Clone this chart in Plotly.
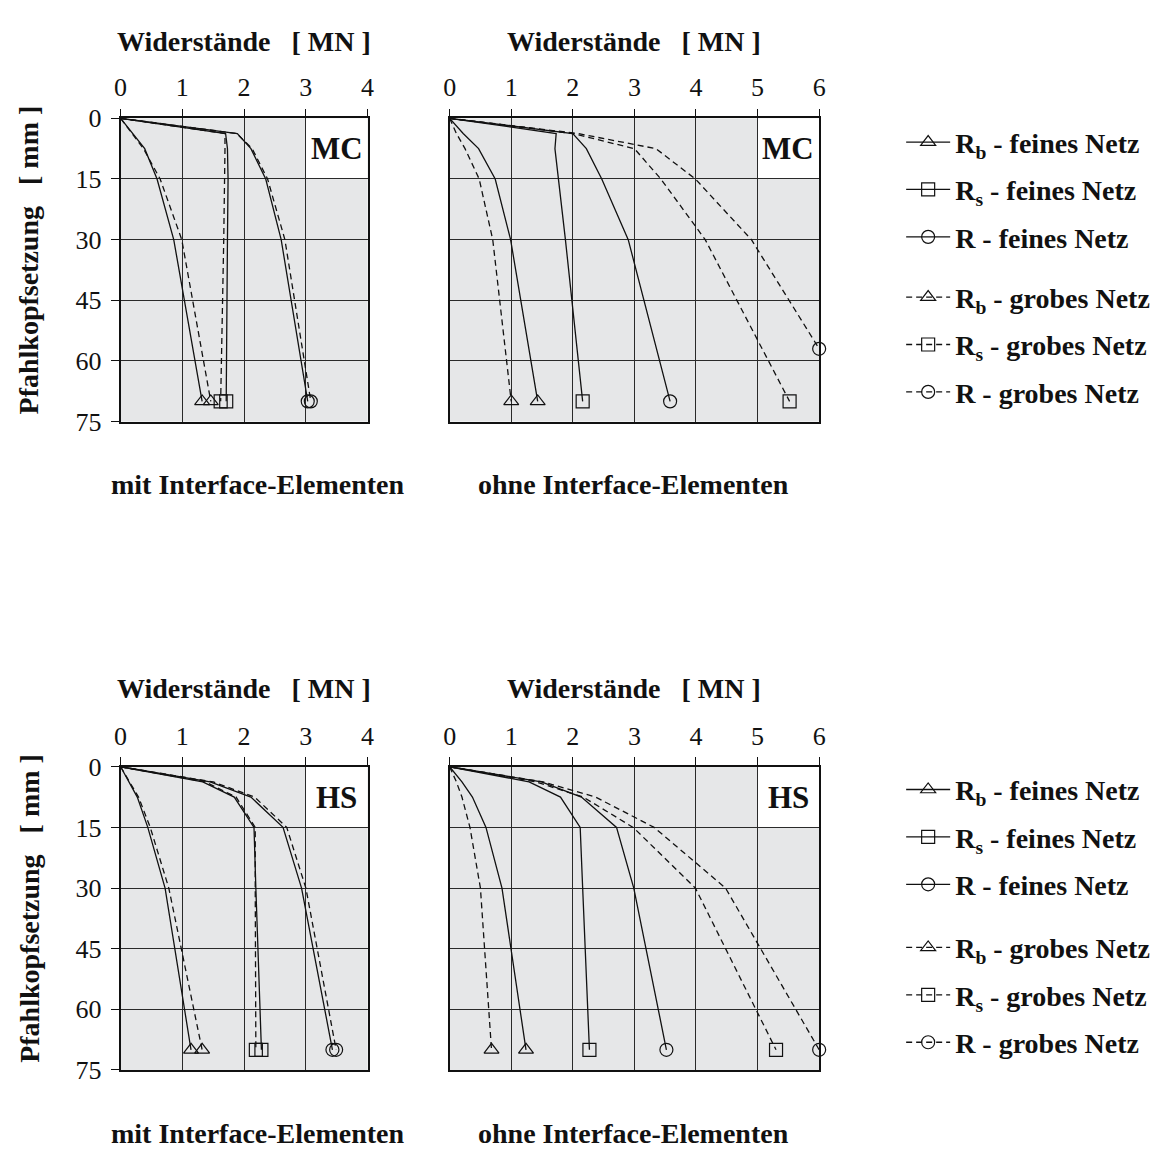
import plotly.graph_objects as go

W, H = 1168, 1163
FONT = "Liberation Serif"

# Pile-head settlement [mm] at which the resistances were evaluated
settlement = [0, 3.75, 7.5, 15, 30, 70]
settlement_mc_ohne_r_grob = [0, 3.75, 7.5, 15, 30, 57]

# MC, mit Interface-Elementen  [MN]
mc_mit_rb_fein = [0, 0.20, 0.39, 0.59, 0.86, 1.32]
mc_mit_rs_fein = [0, 1.70, 1.73, 1.74, 1.73, 1.71]
mc_mit_r_fein = [0, 1.89, 2.11, 2.35, 2.60, 3.03]
mc_mit_rb_grob = [0, 0.19, 0.37, 0.64, 0.99, 1.46]
mc_mit_rs_grob = [0, 1.69, 1.69, 1.68, 1.67, 1.62]
mc_mit_r_grob = [0, 1.88, 2.13, 2.38, 2.66, 3.08]

# MC, ohne Interface-Elementen  [MN]
mc_ohne_rb_fein = [0, 0.22, 0.47, 0.74, 0.99, 1.43]
mc_ohne_rs_fein = [0, 1.73, 1.71, 1.77, 1.88, 2.16]
mc_ohne_r_fein = [0, 2.00, 2.22, 2.47, 2.90, 3.58]
mc_ohne_rb_grob = [0, 0.11, 0.25, 0.48, 0.70, 1.00]
mc_ohne_rs_grob = [0, 2.00, 3.00, 3.43, 4.15, 5.52]
mc_ohne_r_grob = [0, 2.08, 3.35, 3.99, 4.90, 6.00]

# HS, mit Interface-Elementen  [MN]
hs_mit_rb_fein = [0, 0.13, 0.27, 0.44, 0.72, 1.14]
hs_mit_rs_fein = [0, 1.33, 1.84, 2.16, 2.19, 2.28]
hs_mit_r_fein = [0, 1.45, 2.11, 2.63, 2.93, 3.43]
hs_mit_rb_grob = [0, 0.14, 0.29, 0.48, 0.78, 1.32]
hs_mit_rs_grob = [0, 1.37, 1.87, 2.18, 2.18, 2.19]
hs_mit_r_grob = [0, 1.50, 2.17, 2.69, 3.00, 3.49]

# HS, ohne Interface-Elementen  [MN]
hs_ohne_rb_fein = [0, 0.20, 0.37, 0.59, 0.85, 1.24]
hs_ohne_rs_fein = [0, 1.29, 1.80, 2.12, 2.16, 2.27]
hs_ohne_r_fein = [0, 1.49, 2.14, 2.71, 2.99, 3.52]
hs_ohne_rb_grob = [0, 0.11, 0.20, 0.33, 0.50, 0.68]
hs_ohne_rs_grob = [0, 1.40, 2.17, 2.98, 3.99, 5.30]
hs_ohne_r_grob = [0, 1.52, 2.37, 3.32, 4.48, 6.00]

x_ticks_mit = [0, 1, 2, 3, 4]
x_ticks_ohne = [0, 1, 2, 3, 4, 5, 6]
y_ticks = [0, 15, 30, 45, 60, 75]

series_names = [
    "<b>R<sub>b</sub> - feines Netz</b>",
    "<b>R<sub>s</sub> - feines Netz</b>",
    "<b>R - feines Netz</b>",
    "<b>R<sub>b</sub> - grobes Netz</b>",
    "<b>R<sub>s</sub> - grobes Netz</b>",
    "<b>R - grobes Netz</b>",
]
symbols = ["triangle-up-open", "square-open", "circle-open"] * 2
dashes = ["solid"] * 3 + ["6px,4px"] * 3

panels = [
    ("x", "y", [
        (mc_mit_rb_fein, settlement), (mc_mit_rs_fein, settlement), (mc_mit_r_fein, settlement),
        (mc_mit_rb_grob, settlement), (mc_mit_rs_grob, settlement), (mc_mit_r_grob, settlement)]),
    ("x2", "y2", [
        (mc_ohne_rb_fein, settlement), (mc_ohne_rs_fein, settlement), (mc_ohne_r_fein, settlement),
        (mc_ohne_rb_grob, settlement), (mc_ohne_rs_grob, settlement),
        (mc_ohne_r_grob, settlement_mc_ohne_r_grob)]),
    ("x3", "y3", [
        (hs_mit_rb_fein, settlement), (hs_mit_rs_fein, settlement), (hs_mit_r_fein, settlement),
        (hs_mit_rb_grob, settlement), (hs_mit_rs_grob, settlement), (hs_mit_r_grob, settlement)]),
    ("x4", "y4", [
        (hs_ohne_rb_fein, settlement), (hs_ohne_rs_fein, settlement), (hs_ohne_r_fein, settlement),
        (hs_ohne_rb_grob, settlement), (hs_ohne_rs_grob, settlement), (hs_ohne_r_grob, settlement)]),
]

fig = go.Figure()
INK = "#111111"

for xa, ya, curves in panels:
    for i, (xs, ys) in enumerate(curves):
        fig.add_trace(go.Scatter(
            x=xs, y=ys, xaxis=xa, yaxis=ya, mode="lines",
            line=dict(color=INK, width=1.3, dash=dashes[i]),
            showlegend=False, hoverinfo="skip"))
        # end-point symbol at the last evaluated settlement
        fig.add_trace(go.Scatter(
            x=[xs[-1]], y=[ys[-1]], xaxis=xa, yaxis=ya, mode="markers",
            marker=dict(symbol=symbols[i], size=13, color=INK, line=dict(width=1.2, color=INK)),
            cliponaxis=False, showlegend=False, hoverinfo="skip"))

# legend entries (two legends per row of panels: fine / coarse mesh)
legend_ids = [("legend", "legend2"), ("legend3", "legend4")]
for row, (leg_f, leg_g) in enumerate(legend_ids):
    xa = "x" if row == 0 else "x3"
    ya = "y" if row == 0 else "y3"
    for i, name in enumerate(series_names):
        fig.add_trace(go.Scatter(
            x=[None], y=[None], xaxis=xa, yaxis=ya, mode="lines+markers", name=name,
            line=dict(color=INK, width=1.3, dash=dashes[i]),
            marker=dict(symbol=symbols[i], size=13, color=INK, line=dict(width=1.2, color=INK)),
            legend=leg_f if i < 3 else leg_g, legendgroup=f"g{row}{i}", showlegend=True))


def px_x(p):
    return p / W


def px_y(p):
    return 1 - p / H


x_dom_mit = [px_x(115), px_x(365)]
x_dom_ohne = [px_x(448), px_x(822)]
y_dom_top = [px_y(418), px_y(107)]
y_dom_bot = [px_y(1083), px_y(772)]

tick_font = dict(family=FONT, size=26, color=INK)
GRID = "#2a2a2a"


def xaxis(dom, rng, ticks, anchor):
    return dict(domain=dom, range=rng, tickvals=ticks, side="top", anchor=anchor,
                showgrid=True, gridcolor=GRID, gridwidth=1, zeroline=False,
                showline=True, linecolor=INK, linewidth=1.6, mirror=True,
                ticks="outside", ticklen=8, tickcolor=INK, tickwidth=1.2,
                tickfont=tick_font, ticklabelstandoff=2, fixedrange=True)


def yaxis(dom, anchor, labels):
    return dict(domain=dom, range=[75, 0], tickvals=y_ticks, anchor=anchor,
                showgrid=True, gridcolor=GRID, gridwidth=1, zeroline=False,
                showline=True, linecolor=INK, linewidth=1.6, mirror=True,
                ticks="outside" if labels else "", ticklen=8, tickcolor=INK, tickwidth=1.2,
                showticklabels=labels, tickfont=tick_font, ticklabelstandoff=4, fixedrange=True)


legend_common = dict(xanchor="left", yanchor="top", bgcolor="rgba(0,0,0,0)",
                     font=dict(family=FONT, size=28, color=INK),
                     tracegroupgap=8, itemwidth=44, orientation="v")

LEG_X = px_x(905)
fig.update_layout(
    width=W, height=H, margin=dict(l=0, r=0, t=0, b=0),
    paper_bgcolor="white", plot_bgcolor="#e6e7e8",
    xaxis=xaxis(x_dom_mit, [0, 4], x_ticks_mit, "y"),
    yaxis=yaxis(y_dom_top, "x", True),
    xaxis2=xaxis(x_dom_ohne, [0, 6], x_ticks_ohne, "y2"),
    yaxis2=yaxis(y_dom_top, "x2", False),
    xaxis3=xaxis(x_dom_mit, [0, 4], x_ticks_mit, "y3"),
    yaxis3=yaxis(y_dom_bot, "x3", True),
    xaxis4=xaxis(x_dom_ohne, [0, 6], x_ticks_ohne, "y4"),
    yaxis4=yaxis(y_dom_bot, "x4", False),
    legend=dict(legend_common, x=LEG_X, y=px_y(106)),
    legend2=dict(legend_common, x=LEG_X, y=px_y(265)),
    legend3=dict(legend_common, x=LEG_X, y=px_y(770)),
    legend4=dict(legend_common, x=LEG_X, y=px_y(932)),
)

# white label boxes in the upper right cell of every panel
boxes = [("x", "y", 3, 4, "MC"), ("x2", "y2", 5, 6, "MC"),
         ("x3", "y3", 3, 4, "HS"), ("x4", "y4", 5, 6, "HS")]
for xa, ya, x0, x1, label in boxes:
    fig.add_shape(type="rect", xref=xa, yref=ya, x0=x0, x1=x1, y0=0, y1=15,
                  fillcolor="white", line=dict(width=0), layer="below")
    fig.add_annotation(x=(x0 + x1) / 2, y=7.5, xref=xa, yref=ya, text=f"<b>{label}</b>",
                       showarrow=False, font=dict(family=FONT, size=31, color=INK))

NB = "\u00a0"
lab_font = dict(family=FONT, size=28, color=INK)
title = f"<b>Widerstände{NB * 3}[ MN ]</b>"
for cx, top in [(240, 28), (635, 28), (240, 692), (635, 692)]:
    fig.add_annotation(x=px_x(cx), y=px_y(top), xref="paper", yref="paper", text=title,
                       showarrow=False, font=lab_font, xanchor="center", yanchor="middle")

for cy in (483, 1148):
    fig.add_annotation(x=px_x(254), y=px_y(cy), xref="paper", yref="paper",
                       text="<b>mit Interface-Elementen</b>", showarrow=False, font=lab_font,
                       xanchor="center", yanchor="middle")
    fig.add_annotation(x=px_x(634), y=px_y(cy), xref="paper", yref="paper",
                       text="<b>ohne Interface-Elementen</b>", showarrow=False, font=lab_font,
                       xanchor="center", yanchor="middle")

for cy in (252, 917):
    fig.add_annotation(x=px_x(22), y=px_y(cy), xref="paper", yref="paper",
                       text=f"<b>Pfahlkopfsetzung{NB * 3}[ mm ]</b>", showarrow=False,
                       font=lab_font, textangle=-90, xanchor="center", yanchor="middle")

fig.write_html("out.html")
